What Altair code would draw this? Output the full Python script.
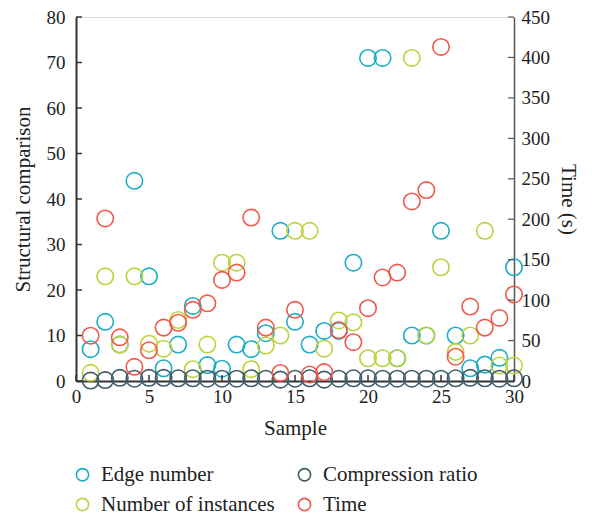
import altair as alt
import pandas as pd

samples = list(range(1, 31))
edge_number = [7, 13, 8, 44, 23, 2.8, 8, 16.5, 3.5, 2.7, 8, 7, 10.5, 33, 13,
               8, 11, 11, 26, 71, 71, 5, 10, 10, 33, 10, 2.8, 3.6, 5.1, 25]
instances = [1.8, 23, 8, 23, 8.2, 7.1, 13.4, 2.6, 8, 26, 26, 2.6, 7.8, 10, 33,
             33, 7.1, 13.3, 12.9, 5, 5, 5, 71, 10, 25, 6.4, 10, 33, 3.4, 3.4]
compression = [0.1, 0.2, 0.7, 0.5, 0.7, 0.7, 0.6, 0.6, 0.5, 0.5, 0.5, 0.6, 0.5, 0.3, 0.5,
               0.6, 0.3, 0.5, 0.6, 0.6, 0.5, 0.5, 0.5, 0.5, 0.5, 0.6, 0.7, 0.6, 0.5, 0.6]
time_s = [56, 201, 54, 17.5, 38, 66, 72, 88, 96, 125, 134, 202, 66, 10, 88,
          8, 11, 63, 48, 90, 128, 134, 222, 236, 413, 30, 92, 66, 78, 107]

series_names = ["Edge number", "Compression ratio", "Number of instances", "Time"]
series_colors = ["#1aaec6", "#3e5c68", "#bdd23c", "#f3574a"]

left_ticks = [0, 10, 20, 30, 40, 50, 60, 70, 80]
bottom_ticks = [0, 5, 10, 15, 20, 25, 30]
right_ticks = [0, 50, 100, 150, 200, 250, 300, 350, 400, 450]

rows = []
for name, vals in [("Edge number", edge_number),
                   ("Number of instances", instances),
                   ("Compression ratio", compression)]:
    for s, v in zip(samples, vals):
        rows.append({"Sample": s, "Value": v, "Series": name})
left_df = pd.DataFrame(rows)
time_df = pd.DataFrame({"Sample": samples, "Value": time_s, "Series": ["Time"] * len(samples)})

FONT = "Liberation Serif"
W, H = 438, 364
LABEL_FS = 19
TITLE_FS = 21

x_scale = alt.Scale(domain=[0, 30], nice=False, zero=False)
x_enc = alt.X("Sample:Q", scale=x_scale, title="Sample",
              axis=alt.Axis(values=bottom_ticks, ticks=False, grid=False,
                            domainColor="#333333", domainWidth=2,
                            labelPadding=6, titlePadding=11, labelFlush=False,
                            labelFontSize=LABEL_FS, titleFontSize=TITLE_FS,
                            labelFont=FONT, titleFont=FONT,
                            labelColor="#222", titleColor="#222",
                            titleFontWeight="normal"))

color_enc = alt.Color("Series:N",
                      scale=alt.Scale(domain=series_names, range=series_colors),
                      legend=alt.Legend(title=None, orient="none", legendX=-4, legendY=447,
                                        columns=2, columnPadding=19, rowPadding=8,
                                        symbolType="circle", symbolSize=150,
                                        symbolStrokeWidth=1.6, labelFont=FONT,
                                        labelFontSize=TITLE_FS, labelColor="#222",
                                        labelOffset=8, labelLimit=0,
                                        direction="horizontal"))

left_scale = alt.Scale(domain=[0, 80], nice=False)
right_scale = alt.Scale(domain=[0, 450], nice=False)

pts_left = alt.Chart(left_df).mark_point(shape="circle", filled=False, size=270,
                                         strokeWidth=1.6, opacity=1).encode(
    x=x_enc,
    y=alt.Y("Value:Q", scale=left_scale, title="Structural comparison",
            axis=alt.Axis(values=left_ticks, orient="left", ticks=False, grid=False,
                          domainColor="#333333", domainWidth=2,
                          labelPadding=11, titlePadding=13, labelFlush=False,
                          labelFontSize=LABEL_FS, titleFontSize=TITLE_FS,
                          labelFont=FONT, titleFont=FONT,
                          labelColor="#222", titleColor="#222",
                          titleFontWeight="normal")),
    color=color_enc,
)

ticks_left = alt.Chart(pd.DataFrame({"Value": left_ticks})).mark_rule(
    color="#333333", strokeWidth=1.5).encode(
    y=alt.Y("Value:Q", scale=left_scale, title="Structural comparison"),
    x=alt.value(0), x2=alt.value(6))

ticks_bottom = alt.Chart(pd.DataFrame({"Sample": bottom_ticks})).mark_rule(
    color="#333333", strokeWidth=1.5).encode(
    x=alt.X("Sample:Q", scale=x_scale, title="Sample"),
    y=alt.value(H), y2=alt.value(H - 6))

pts_time = alt.Chart(time_df).mark_point(shape="circle", filled=False, size=270,
                                         strokeWidth=1.6, opacity=1).encode(
    x=alt.X("Sample:Q", scale=x_scale, title="Sample"),
    y=alt.Y("Value:Q", scale=right_scale, title="Time (s)",
            axis=alt.Axis(values=right_ticks, orient="right", ticks=False, grid=False,
                          domainColor="#555555", domainWidth=1.5,
                          labelPadding=7, titlePadding=8, labelFlush=False,
                          labelFontSize=LABEL_FS, titleFontSize=TITLE_FS,
                          labelFont=FONT, titleFont=FONT,
                          labelColor="#222", titleColor="#222",
                          titleFontWeight="normal")),
    color=color_enc,
)

ticks_right = alt.Chart(pd.DataFrame({"Value": right_ticks})).mark_rule(
    color="#555555", strokeWidth=1.2).encode(
    y=alt.Y("Value:Q", scale=right_scale, title="Time (s)"),
    x=alt.value(W), x2=alt.value(W - 6))

left_layer = alt.layer(pts_left, ticks_left, ticks_bottom)
right_layer = alt.layer(pts_time, ticks_right)

chart = alt.layer(left_layer, right_layer).resolve_scale(y="independent").properties(
    width=W, height=H,
    autosize=alt.AutoSizeParams(type="none"),
    padding={"left": 68, "top": 9, "right": 70, "bottom": 145},
).configure_view(stroke=None).configure(background="white")

chart.save("out.html", embed_options={"renderer": "svg", "actions": False})
